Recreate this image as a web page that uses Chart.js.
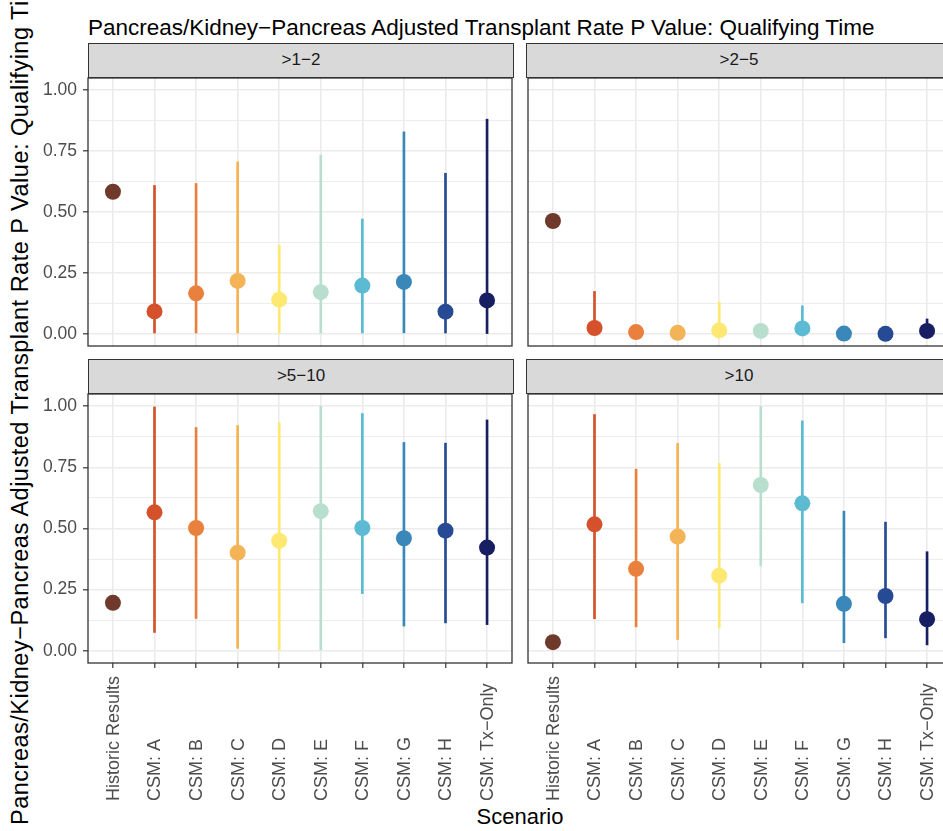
<!DOCTYPE html>
<html>
<head>
<meta charset="utf-8">
<script src="https://cdn.jsdelivr.net/npm/chart.js@4.4.1/dist/chart.umd.min.js"></script>
<style>
  html, body { margin: 0; padding: 0; background: #ffffff; }
  body { width: 943px; height: 831px; overflow: hidden; position: relative;
         font-family: "Liberation Sans", Arial, Helvetica, sans-serif; }
  canvas { position: absolute; }
  .strip { position: absolute; box-sizing: border-box; background: #D9D9D9;
           border: 1.3px solid #333333; color: #1A1A1A; font-size: 17px;
           text-align: center; line-height: 31px; }
  .title { position: absolute; left: 88px; top: 15px; font-size: 22.5px; color: #000; white-space: nowrap; }
  .xtitle { position: absolute; left: 0; width: 1040px; top: 804px; font-size: 22px; color: #000; text-align: center; }
  .ytitle { position: absolute; left: 7px; top: 825px; font-size: 23.5px; letter-spacing: 0.5px; line-height: 26px; color: #000;
            white-space: nowrap; transform: rotate(-90deg); transform-origin: 0 0; }
</style>
</head>
<body>
<div class="title">Pancreas/Kidney−Pancreas Adjusted Transplant Rate P Value: Qualifying Time</div>
<div class="ytitle">Pancreas/Kidney−Pancreas Adjusted Transplant Rate P Value: Qualifying Time</div>
<div class="xtitle">Scenario</div>

<div class="strip" id="s1" style="left:88px;top:43px;width:426px;height:35px;"></div>
<div class="strip" id="s2" style="left:526px;top:43px;width:426px;height:35px;"></div>
<div class="strip" id="s3" style="left:88px;top:359px;width:426px;height:35px;"></div>
<div class="strip" id="s4" style="left:526px;top:359px;width:426px;height:35px;"></div>

<canvas id="c1" width="520" height="284" style="left:0;top:70px;"></canvas>
<canvas id="c2" width="440" height="284" style="left:520px;top:70px;"></canvas>
<canvas id="c3" width="520" height="445" style="left:0;top:386px;"></canvas>
<canvas id="c4" width="440" height="445" style="left:520px;top:386px;"></canvas>

<script>
// Scenarios along the x axis of every panel
const scenarios = ['Historic Results', 'CSM: A', 'CSM: B', 'CSM: C', 'CSM: D',
                   'CSM: E', 'CSM: F', 'CSM: G', 'CSM: H', 'CSM: Tx−Only'];
const scenarioColors = ['#6F3A2B', '#D4512B', '#EA803E', '#F3B357', '#FDE871',
                        '#B8DFCE', '#5CBAD3', '#3A87B9', '#264A93', '#171F62'];

// Qualifying-time groups (one facet each)
const groups = ['>1−2', '>2−5', '>5−10', '>10'];

// Estimated p values and interval bounds per group (Historic Results has no interval)
const est_1_2  = [0.583, 0.092, 0.166, 0.217, 0.140, 0.171, 0.198, 0.213, 0.091, 0.137];
const low_1_2  = [null,  0.000, 0.000, 0.000, 0.000, 0.000, 0.000, 0.004, 0.000, 0.001];
const high_1_2 = [null,  0.609, 0.617, 0.706, 0.364, 0.733, 0.471, 0.829, 0.659, 0.881];

const est_2_5  = [0.463, 0.024, 0.007, 0.004, 0.014, 0.012, 0.022, 0.001, 0.000, 0.012];
const low_2_5  = [null,  0.000, 0.000, 0.000, 0.000, 0.000, 0.000, 0.000, 0.000, 0.000];
const high_2_5 = [null,  0.174, 0.020, 0.015, 0.130, 0.025, 0.115, 0.010, 0.008, 0.061];

const est_5_10  = [0.196, 0.566, 0.502, 0.401, 0.450, 0.571, 0.502, 0.460, 0.491, 0.422];
const low_5_10  = [null,  0.075, 0.132, 0.010, 0.003, 0.000, 0.234, 0.101, 0.114, 0.107];
const high_5_10 = [null,  0.997, 0.913, 0.921, 0.933, 1.000, 0.970, 0.852, 0.849, 0.944];

const est_10  = [0.035, 0.517, 0.335, 0.467, 0.307, 0.678, 0.603, 0.192, 0.224, 0.129];
const low_10  = [null,  0.131, 0.098, 0.046, 0.093, 0.347, 0.196, 0.033, 0.053, 0.024];
const high_10 = [null,  0.966, 0.743, 0.848, 0.767, 0.999, 0.940, 0.571, 0.526, 0.405];

// y axis: labelled ticks and the minor grid positions between them
const yTicks = [0, 0.25, 0.5, 0.75, 1];
const yTickLabels = ['0.00', '0.25', '0.50', '0.75', '1.00'];
const yMinor = [0.125, 0.375, 0.625, 0.875];

const FONT = '"Liberation Sans", Arial, Helvetica, sans-serif';
Chart.defaults.font.family = FONT;

const GRID = '#EBEBEB';
const DARK = '#333333';
const TICK_TEXT = '#4D4D4D';

const isMajor = v => yTicks.some(t => Math.abs(t - v) < 1e-9);

// Draws the dark frame around each panel
const panelFrame = {
  id: 'panelFrame',
  afterDraw(chart) {
    const a = chart.chartArea, c = chart.ctx;
    c.save();
    c.strokeStyle = DARK;
    c.lineWidth = 1.3;
    c.strokeRect(a.left, a.top, a.right - a.left, a.bottom - a.top);
    c.restore();
  }
};

// Vertical scenario labels, all starting from a common line at the bottom
const scenarioLabels = {
  id: 'scenarioLabels',
  afterDraw(chart, args, opts) {
    if (!opts.show) return;
    const xs = chart.scales.x, c = chart.ctx;
    const base = chart.chartArea.bottom + opts.offset;
    c.save();
    c.fillStyle = TICK_TEXT;
    c.font = opts.size + 'px ' + FONT;
    c.textAlign = 'left';
    c.textBaseline = 'middle';
    scenarios.forEach((label, i) => {
      c.save();
      c.translate(xs.getPixelForValue(i), base);
      c.rotate(-Math.PI / 2);
      c.fillText(label, 0, 1);
      c.restore();
    });
    c.restore();
  }
};

// Keep tick labels from pushing the plot area inward
const noOverflow = s => { s.paddingTop = 0; s.paddingBottom = 0; s.paddingLeft = 0; s.paddingRight = 0; };

function makePanel(id, est, low, high, showY, showX, pad) {
  const points = est.map((v, i) => ({ x: i, y: v }));
  const intervals = [];
  low.forEach((lo, i) => { if (lo !== null) intervals.push({ x: i, y: [lo, high[i]] }); });

  return new Chart(document.getElementById(id), {
    type: 'bar',
    data: {
      datasets: [
        {
          type: 'bar',
          data: intervals,
          backgroundColor: ctx => scenarioColors[ctx.raw ? ctx.raw.x : 0],
          borderWidth: 0,
          barThickness: 2,
          grouped: false,
          order: 2,
          clip: false
        },
        {
          type: 'line',
          data: points,
          showLine: false,
          pointRadius: 8,
          pointHoverRadius: 8,
          pointBorderWidth: 0,
          pointBackgroundColor: scenarioColors,
          pointBorderColor: scenarioColors,
          order: 1,
          clip: false
        }
      ]
    },
    options: {
      responsive: false,
      animation: false,
      events: [],
      layout: { padding: pad },
      plugins: {
        legend: { display: false },
        tooltip: { enabled: false },
        scenarioLabels: { show: showX, offset: 138, size: 18 }
      },
      scales: {
        x: {
          type: 'linear',
          min: -0.6,
          max: 9.6,
          offset: false,
          afterBuildTicks: s => { s.ticks = scenarios.map((_, i) => ({ value: i })); },
          afterFit: s => { s.height = showX ? 168 : 0; noOverflow(s); },
          ticks: { display: false },
          grid: {
            offset: false,
            color: GRID,
            lineWidth: 1.6,
            drawTicks: showX,
            tickLength: 5,
            tickColor: DARK,
            tickWidth: 1.2
          },
          border: { display: false }
        },
        y: {
          type: 'linear',
          min: -0.05,
          max: 1.05,
          afterBuildTicks: s => {
            s.ticks = yTicks.concat(yMinor).sort((a, b) => a - b).map(v => ({ value: v }));
          },
          afterFit: s => { s.width = showY ? 88 : 6; noOverflow(s); },
          ticks: {
            display: showY,
            padding: 6,
            color: TICK_TEXT,
            font: { size: 17.5 },
            callback: v => { const k = yTicks.findIndex(t => Math.abs(t - v) < 1e-9); return k >= 0 ? yTickLabels[k] : ''; }
          },
          grid: {
            color: GRID,
            lineWidth: ctx => (ctx.tick && isMajor(ctx.tick.value)) ? 1.6 : 0.9,
            drawTicks: showY,
            tickLength: 5,
            tickWidth: 1.2,
            tickColor: ctx => (ctx.tick && isMajor(ctx.tick.value)) ? DARK : 'rgba(0,0,0,0)'
          },
          border: { display: false }
        }
      }
    },
    plugins: [panelFrame, scenarioLabels]
  });
}

['s1', 's2', 's3', 's4'].forEach((s, i) => { document.getElementById(s).textContent = groups[i]; });

makePanel('c1', est_1_2,  low_1_2,  high_1_2,  true,  false, { top: 7, right: 6, bottom: 7, left: 0 });
makePanel('c2', est_2_5,  low_2_5,  high_2_5,  false, false, { top: 7, right: 8, bottom: 7, left: 0 });
makePanel('c3', est_5_10, low_5_10, high_5_10, true,  true,  { top: 7, right: 6, bottom: 0, left: 0 });
makePanel('c4', est_10,   low_10,   high_10,   false, true,  { top: 7, right: 8, bottom: 0, left: 0 });
</script>
</body>
</html>
